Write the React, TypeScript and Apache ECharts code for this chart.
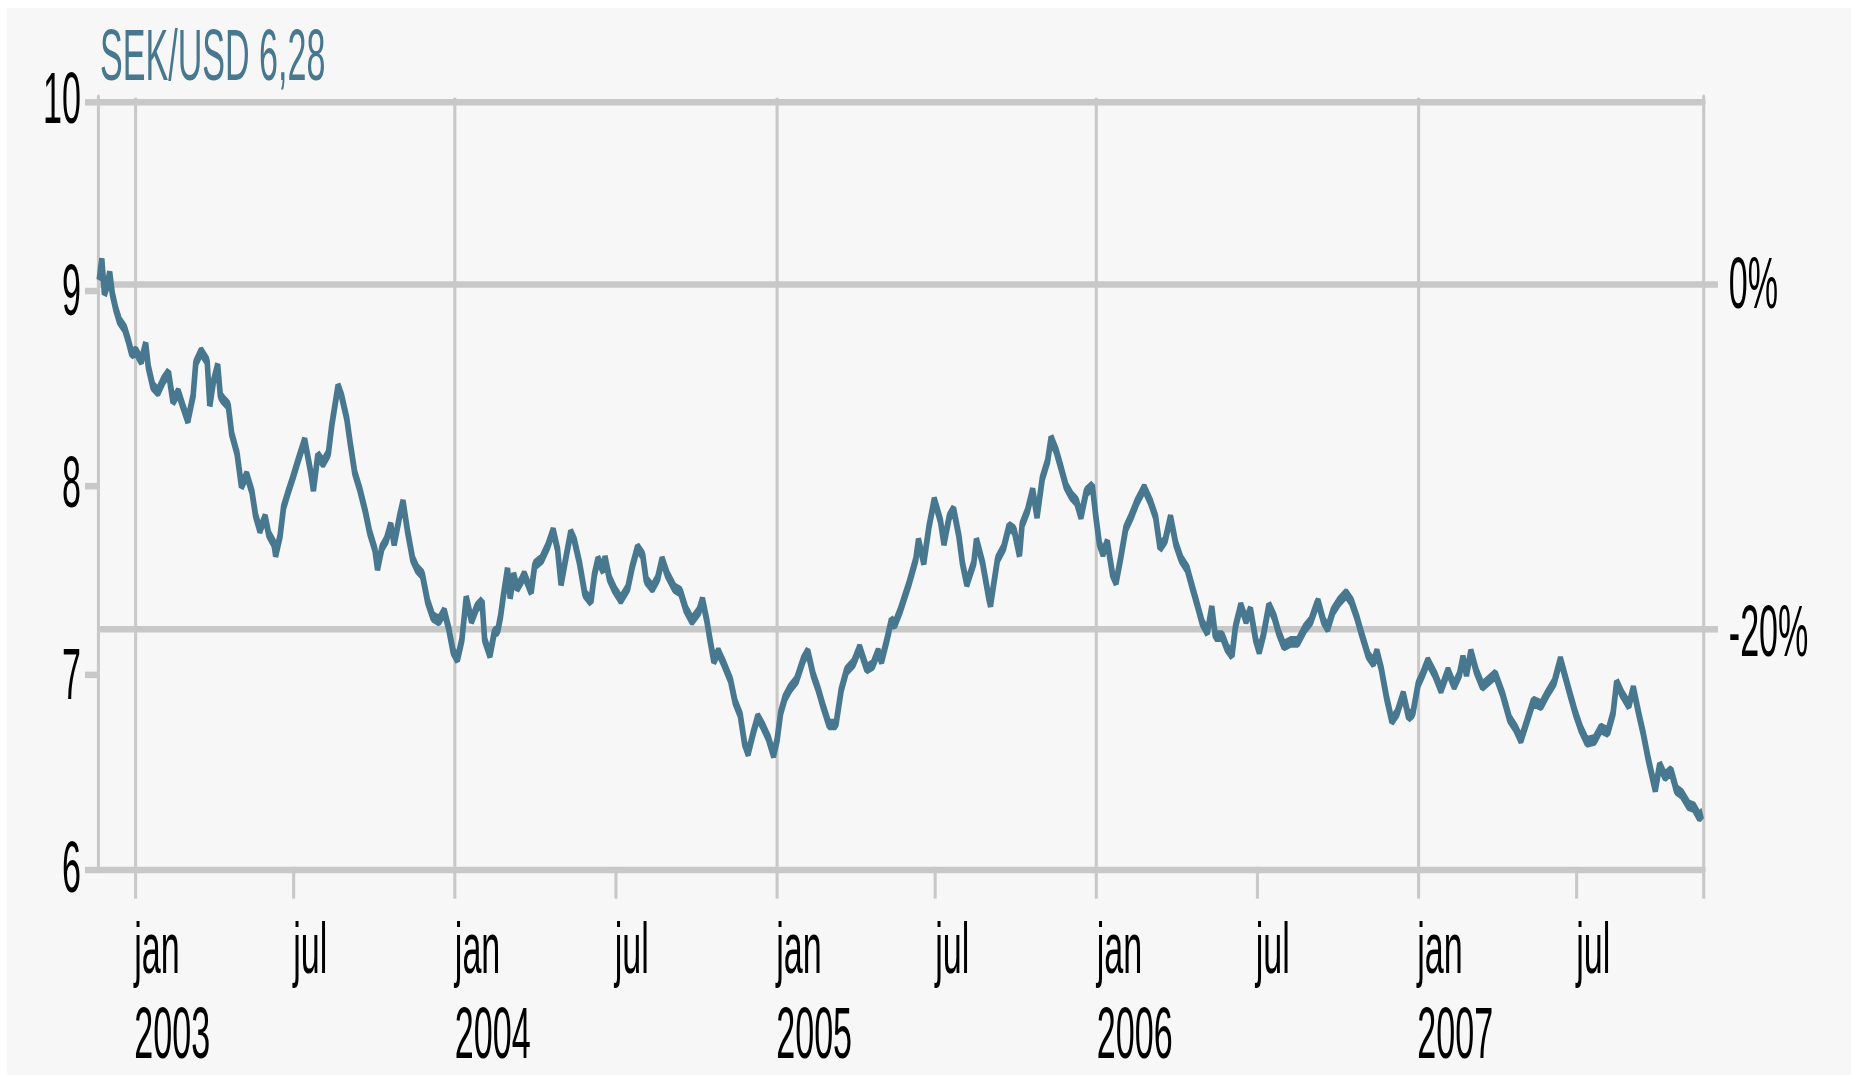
import React, { useEffect, useRef } from 'react';
import * as echarts from 'echarts';

const TITLE = 'SEK/USD 6,28';

const DATES = [
  '2002-11-22','2002-11-25','2002-11-28','2002-12-01','2002-12-04','2002-12-07','2002-12-11','2002-12-15','2002-12-21','2002-12-25','2002-12-29',
  '2003-01-03','2003-01-09','2003-01-14','2003-01-17','2003-01-22','2003-01-28','2003-02-03','2003-02-09','2003-02-14','2003-02-20','2003-02-25',
  '2003-03-03','2003-03-09','2003-03-12','2003-03-18','2003-03-25','2003-03-28','2003-04-01','2003-04-06','2003-04-09','2003-04-12','2003-04-18',
  '2003-04-22','2003-04-28','2003-05-03','2003-05-09','2003-05-15','2003-05-19','2003-05-24','2003-05-30','2003-06-03','2003-06-09','2003-06-11',
  '2003-06-16','2003-06-20','2003-06-26','2003-07-01','2003-07-07','2003-07-14','2003-07-21','2003-07-24','2003-07-29','2003-08-04','2003-08-10',
  '2003-08-14','2003-08-21','2003-08-25','2003-08-31','2003-09-04','2003-09-09','2003-09-15','2003-09-21','2003-09-26','2003-10-02','2003-10-05',
  '2003-10-10','2003-10-15','2003-10-20','2003-10-24','2003-10-30','2003-11-03','2003-11-08','2003-11-14','2003-11-19','2003-11-25','2003-12-01',
  '2003-12-07','2003-12-14','2003-12-20','2003-12-25','2003-12-30',
  '2004-01-04','2004-01-09','2004-01-14','2004-01-20','2004-01-26','2004-02-01','2004-02-04','2004-02-10','2004-02-15','2004-02-19','2004-02-22',
  '2004-02-25','2004-03-01','2004-03-04','2004-03-08','2004-03-12','2004-03-17','2004-03-20','2004-03-28','2004-04-01','2004-04-09','2004-04-16',
  '2004-04-22','2004-04-27','2004-05-01','2004-05-07','2004-05-12','2004-05-16','2004-05-22','2004-05-28','2004-06-04','2004-06-08','2004-06-12',
  '2004-06-18','2004-06-20','2004-06-25','2004-07-01','2004-07-08','2004-07-16','2004-07-21','2004-07-27','2004-08-02','2004-08-06','2004-08-13',
  '2004-08-19','2004-08-24','2004-08-30','2004-09-07','2004-09-14','2004-09-20','2004-09-27','2004-10-05','2004-10-09','2004-10-14','2004-10-18',
  '2004-10-22','2004-10-27','2004-11-02','2004-11-10','2004-11-15','2004-11-21','2004-11-26','2004-11-30','2004-12-06','2004-12-11','2004-12-17',
  '2004-12-23','2004-12-29',
  '2005-01-02','2005-01-06','2005-01-11','2005-01-17','2005-01-24','2005-02-01','2005-02-06','2005-02-12','2005-02-18','2005-02-23','2005-03-02',
  '2005-03-10','2005-03-16','2005-03-22','2005-03-30','2005-04-06','2005-04-14','2005-04-21','2005-04-27','2005-05-01','2005-05-07','2005-05-12',
  '2005-05-16','2005-05-22','2005-06-01','2005-06-09','2005-06-12','2005-06-18','2005-06-24','2005-06-30','2005-07-07','2005-07-11','2005-07-17',
  '2005-07-22','2005-07-28','2005-08-01','2005-08-06','2005-08-14','2005-08-17','2005-08-24','2005-08-31','2005-09-02','2005-09-10','2005-09-17',
  '2005-09-23','2005-09-29','2005-10-05','2005-10-08','2005-10-14','2005-10-20','2005-10-25','2005-10-31','2005-11-06','2005-11-10','2005-11-16',
  '2005-11-21','2005-11-27','2005-12-03','2005-12-09','2005-12-14','2005-12-20','2005-12-27','2005-12-31',
  '2006-01-04','2006-01-08','2006-01-13','2006-01-19','2006-01-23','2006-01-28','2006-02-03','2006-02-09','2006-02-16','2006-02-24','2006-03-03',
  '2006-03-09','2006-03-14','2006-03-20','2006-03-26','2006-04-01','2006-04-07','2006-04-14','2006-04-20','2006-04-25','2006-05-01','2006-05-07',
  '2006-05-12','2006-05-16','2006-05-24','2006-05-29','2006-06-04','2006-06-08','2006-06-14','2006-06-20','2006-06-25','2006-07-01','2006-07-05',
  '2006-07-10','2006-07-16','2006-07-22','2006-07-27','2006-08-02','2006-08-10','2006-08-18','2006-08-26','2006-09-02','2006-09-08','2006-09-10',
  '2006-09-16','2006-09-21','2006-09-27','2006-10-04','2006-10-12','2006-10-18','2006-10-24','2006-10-29','2006-11-06','2006-11-12','2006-11-16',
  '2006-11-21','2006-11-27','2006-12-03','2006-12-09','2006-12-16','2006-12-22','2006-12-27',
  '2007-01-02','2007-01-07','2007-01-13','2007-01-21','2007-01-28','2007-02-05','2007-02-12','2007-02-18','2007-02-22','2007-02-26','2007-03-03',
  '2007-03-09','2007-03-16','2007-03-26','2007-03-31','2007-04-08','2007-04-16','2007-04-23','2007-04-29','2007-05-06','2007-05-13','2007-05-22',
  '2007-05-29','2007-06-06','2007-06-13','2007-06-19','2007-06-25','2007-06-30','2007-07-06','2007-07-13','2007-07-22','2007-07-29','2007-08-06',
  '2007-08-12','2007-08-16','2007-08-22','2007-08-30','2007-09-04','2007-09-10','2007-09-15','2007-09-21','2007-09-29','2007-10-04','2007-10-10',
  '2007-10-17','2007-10-23','2007-10-29','2007-11-06','2007-11-12','2007-11-18','2007-11-22'
];

const VALUES = [
  9.05,9.16,8.98,9.02,9.09,8.98,8.90,8.84,8.80,8.74,8.67,
  8.68,8.63,8.72,8.60,8.50,8.47,8.53,8.57,8.42,8.47,8.40,
  8.32,8.45,8.62,8.68,8.63,8.40,8.52,8.61,8.45,8.43,8.40,
  8.25,8.15,7.98,8.04,7.95,7.83,7.75,7.82,7.73,7.68,7.62,
  7.72,7.87,7.96,8.03,8.12,8.22,8.05,7.96,8.14,8.10,8.15,
  8.30,8.50,8.45,8.33,8.20,8.05,7.96,7.85,7.74,7.65,7.55,
  7.66,7.70,7.78,7.68,7.82,7.90,7.75,7.60,7.55,7.52,7.38,
  7.30,7.28,7.33,7.24,7.12,
  7.08,7.18,7.40,7.28,7.35,7.38,7.18,7.10,7.22,7.23,7.30,
  7.40,7.55,7.40,7.52,7.45,7.49,7.52,7.43,7.57,7.60,7.67,
  7.75,7.65,7.47,7.62,7.74,7.70,7.58,7.42,7.38,7.52,7.60,
  7.54,7.61,7.50,7.44,7.39,7.45,7.56,7.66,7.62,7.49,7.45,
  7.50,7.60,7.52,7.45,7.43,7.34,7.28,7.33,7.39,7.28,7.17,
  7.07,7.12,7.06,6.97,6.86,6.79,6.64,6.59,6.70,6.78,6.73,
  6.67,6.58,
  6.66,6.80,6.88,6.93,6.97,7.08,7.12,7.00,6.92,6.84,6.74,
  6.74,6.92,7.02,7.06,7.14,7.03,7.05,7.12,7.07,7.18,7.28,
  7.26,7.33,7.47,7.60,7.70,7.58,7.77,7.91,7.80,7.68,7.82,
  7.86,7.72,7.58,7.47,7.58,7.70,7.58,7.40,7.36,7.60,7.66,
  7.77,7.75,7.62,7.78,7.85,7.96,7.82,8.02,8.11,8.23,8.16,
  8.08,7.98,7.93,7.90,7.82,7.95,7.98,7.82,
  7.68,7.63,7.69,7.52,7.48,7.60,7.76,7.82,7.90,7.97,7.90,
  7.82,7.66,7.70,7.82,7.68,7.60,7.55,7.45,7.37,7.27,7.22,
  7.35,7.20,7.20,7.14,7.10,7.25,7.36,7.28,7.34,7.18,7.12,
  7.21,7.36,7.30,7.22,7.15,7.17,7.17,7.24,7.28,7.36,7.38,
  7.28,7.24,7.33,7.38,7.42,7.38,7.30,7.22,7.10,7.06,7.12,
  7.03,6.88,6.76,6.80,6.90,6.78,6.80,
  6.95,7.00,7.07,7.00,6.92,7.02,6.94,7.00,7.09,7.00,7.12,
  7.02,6.94,6.98,7.00,6.90,6.77,6.72,6.66,6.76,6.86,6.84,
  6.90,6.96,7.08,6.98,6.88,6.80,6.72,6.65,6.66,6.72,6.70,
  6.80,6.96,6.90,6.84,6.93,6.80,6.70,6.56,6.40,6.53,6.47,
  6.50,6.40,6.38,6.32,6.31,6.26,6.28
];

const X_RANGE = ['2002-11-20T16:00:00Z', '2007-11-23T12:00:00Z'];
const X_TICK_DATES = [
  '2003-01-01','2003-07-01','2004-01-01','2004-07-01','2005-01-01',
  '2005-07-01','2006-01-01','2006-07-01','2007-01-01','2007-07-01'
];
const X_TICK_LABELS = [
  'jan\n2003','jul','jan\n2004','jul','jan\n2005',
  'jul','jan\n2006','jul','jan\n2007','jul'
];
const Y_RANGE = [6, 10];
const Y_STEP = 1;
const BASE_RATE = 9.035;
const REF_LEVELS = [0, -20];
const REF_LABELS = ['0%', '-20%'];

const GRID_COLOR = '#c8c8c8';
const LINE_COLOR = '#48788f';
const FONT = '"Liberation Sans", Arial, sans-serif';

export default function App() {
  const ref = useRef<HTMLDivElement>(null);

  useEffect(() => {
    if (!ref.current) return;
    const chart = echarts.init(ref.current, null, { renderer: 'svg' });

    const xMin = Date.parse(X_RANGE[0]);
    const xMax = Date.parse(X_RANGE[1]);
    const tickTs = X_TICK_DATES.map((d) => Date.parse(d));
    const janTs = tickTs.filter((_, i) => X_TICK_LABELS[i].startsWith('jan'));
    const refValues = REF_LEVELS.map((p) => BASE_RATE * (1 + p / 100));
    const data = DATES.map((d, i) => [Date.parse(d), VALUES[i]]);
    const gridLine = { color: GRID_COLOR, width: 1 };
    const labelStyle = { color: '#000', fontSize: 11, fontFamily: FONT };

    chart.setOption({
      animation: false,
      backgroundColor: '#f7f7f7',
      title: {
        text: TITLE,
        left: 30,
        top: 1.8,
        padding: 0,
        textStyle: { color: LINE_COLOR, fontSize: 11, fontWeight: 'normal', fontFamily: FONT },
      },
      grid: { left: 29.36, right: 47.4, top: 13.79, bottom: 31.51, containLabel: false },
      xAxis: [
        {
          type: 'value',
          min: xMin,
          max: xMax,
          position: 'bottom',
          axisLine: { show: true, lineStyle: gridLine },
          axisTick: { show: true, length: 4.9, customValues: [...tickTs, xMax], lineStyle: gridLine },
          axisLabel: {
            ...labelStyle,
            customValues: tickTs,
            align: 'left',
            margin: 6,
            lineHeight: 13,
            formatter: (v: number) => {
              const i = tickTs.findIndex((t) => Math.abs(t - v) < 86400000);
              return i >= 0 ? X_TICK_LABELS[i] : '';
            },
          },
          splitLine: { show: false },
        },
        {
          type: 'value',
          min: xMin,
          max: xMax,
          position: 'top',
          axisLine: { show: true, lineStyle: gridLine },
          axisTick: { show: false, customValues: janTs },
          axisLabel: { show: false },
          splitLine: { show: true, lineStyle: gridLine },
        },
      ],
      yAxis: [
        {
          type: 'value',
          min: Y_RANGE[0],
          max: Y_RANGE[1],
          interval: Y_STEP,
          position: 'left',
          axisLine: { show: true, lineStyle: gridLine },
          axisTick: { show: true, length: 4.2, lineStyle: gridLine },
          axisLabel: { ...labelStyle, margin: 5.5 },
          splitLine: { show: false },
        },
        {
          type: 'value',
          min: Y_RANGE[0],
          max: Y_RANGE[1],
          position: 'right',
          axisLine: { show: true, lineStyle: gridLine },
          axisTick: { show: true, length: 4.5, customValues: refValues, lineStyle: gridLine },
          axisLabel: {
            ...labelStyle,
            customValues: refValues,
            margin: 8,
            formatter: (v: number) => {
              const i = refValues.findIndex((r) => Math.abs(r - v) < 1e-6);
              return i >= 0 ? REF_LABELS[i] : '';
            },
          },
          splitLine: { show: true, lineStyle: gridLine },
        },
      ],
      series: [
        {
          type: 'line',
          xAxisIndex: 0,
          yAxisIndex: 0,
          data,
          showSymbol: false,
          symbol: 'none',
          lineStyle: { color: LINE_COLOR, width: 1.8 },
          z: 3,
        },
      ],
    });

    return () => chart.dispose();
  }, []);

  return (
    <div
      ref={ref}
      style={{
        position: 'absolute',
        left: 7,
        top: 8,
        width: 595,
        height: 164,
        transform: 'scale(3.099, 6.506)',
        transformOrigin: '0 0',
      }}
    />
  );
}
